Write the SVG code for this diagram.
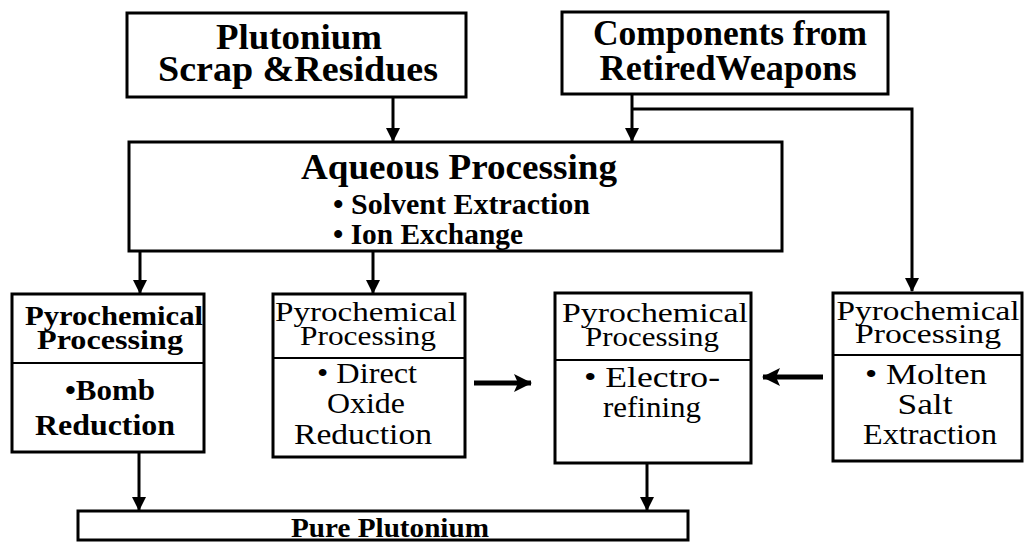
<svg xmlns="http://www.w3.org/2000/svg" width="1031" height="542" viewBox="0 0 1031 542">
  <style>
    .box { fill: #fff; stroke: #000; stroke-width: 3; }
    .div { stroke: #000; stroke-width: 2; }
    .wire { fill: none; stroke: #000; stroke-width: 3; }
    .thick { fill: none; stroke: #000; stroke-width: 5; }
    .hd { font-family: 'Liberation Serif', serif; font-weight: bold; fill: #000; text-anchor: middle; }
    .tx { font-family: 'Liberation Serif', serif; fill: #000; text-anchor: middle; }
    .bl { text-anchor: start; }
  </style>
  <defs>
    <marker id="head" markerUnits="userSpaceOnUse" markerWidth="14" markerHeight="16" viewBox="0 0 14 16" refX="13" refY="8" orient="auto">
      <path d="M0,1 L14,8 L0,15 Z" fill="#000"/>
    </marker>
    <marker id="headBig" markerUnits="userSpaceOnUse" markerWidth="18" markerHeight="20" viewBox="0 0 18 20" refX="17" refY="10" orient="auto">
      <path d="M0,1 L18,10 L0,19 L4,10 Z" fill="#000"/>
    </marker>
  </defs>
  <rect width="1031" height="542" fill="#fff"/>

  <g id="connectors">
    <path class="wire" d="M393,97 V141" marker-end="url(#head)"/>
    <path class="wire" d="M632,94 V141" marker-end="url(#head)"/>
    <path class="wire" d="M632,109 H912 V291" marker-end="url(#head)"/>
    <path class="wire" d="M140,251 V293" marker-end="url(#head)"/>
    <path class="wire" d="M373,251 V293" marker-end="url(#head)"/>
    <path class="thick" d="M474,383 H531" marker-end="url(#headBig)"/>
    <path class="thick" d="M823,377 H763" marker-end="url(#headBig)"/>
    <path class="wire" d="M139,452 V510" marker-end="url(#head)"/>
    <path class="wire" d="M647,463 V510" marker-end="url(#head)"/>
  </g>

  <g id="scrap">
    <rect class="box" x="127" y="13" width="339" height="84"/>
    <text class="hd" x="299" y="49" font-size="36" textLength="166" lengthAdjust="spacingAndGlyphs">Plutonium</text>
    <text class="hd" x="298" y="81" font-size="36" textLength="280" lengthAdjust="spacingAndGlyphs">Scrap &amp;Residues</text>
  </g>

  <g id="weapons">
    <rect class="box" x="562" y="12" width="326" height="82"/>
    <text class="hd" x="730" y="45" font-size="35" textLength="274" lengthAdjust="spacingAndGlyphs">Components from</text>
    <text class="hd" x="728" y="80" font-size="35" textLength="257" lengthAdjust="spacingAndGlyphs">RetiredWeapons</text>
  </g>

  <g id="aqueous">
    <rect class="box" x="129" y="142" width="653" height="109"/>
    <text class="hd" x="459" y="179" font-size="35" textLength="316" lengthAdjust="spacingAndGlyphs">Aqueous Processing</text>
    <text class="hd bl" x="333" y="214" font-size="29" textLength="257" lengthAdjust="spacingAndGlyphs">• Solvent Extraction</text>
    <text class="hd bl" x="333" y="244" font-size="29" textLength="190" lengthAdjust="spacingAndGlyphs">• Ion Exchange</text>
  </g>

  <g id="bomb">
    <rect class="box" x="12" y="294" width="192" height="158"/>
    <line class="div" x1="12" y1="363" x2="204" y2="363"/>
    <text class="hd" x="114" y="325" font-size="28" textLength="178" lengthAdjust="spacingAndGlyphs">Pyrochemical</text>
    <text class="hd" x="110" y="349" font-size="28" textLength="146" lengthAdjust="spacingAndGlyphs">Processing</text>
    <text class="hd" x="110" y="400" font-size="30" textLength="90" lengthAdjust="spacingAndGlyphs">•Bomb</text>
    <text class="hd" x="105" y="435" font-size="30" textLength="140" lengthAdjust="spacingAndGlyphs">Reduction</text>
  </g>

  <g id="oxide">
    <rect class="box" x="273" y="294" width="192" height="163"/>
    <line class="div" x1="273" y1="358" x2="465" y2="358"/>
    <text class="tx" x="366" y="321" font-size="28" textLength="182" lengthAdjust="spacingAndGlyphs">Pyrochemical</text>
    <text class="tx" x="368" y="345" font-size="28" textLength="136" lengthAdjust="spacingAndGlyphs">Processing</text>
    <text class="tx" x="367" y="383" font-size="30" textLength="100" lengthAdjust="spacingAndGlyphs">• Direct</text>
    <text class="tx" x="366" y="413" font-size="30" textLength="78" lengthAdjust="spacingAndGlyphs">Oxide</text>
    <text class="tx" x="363" y="444" font-size="30" textLength="138" lengthAdjust="spacingAndGlyphs">Reduction</text>
  </g>

  <g id="electro">
    <rect class="box" x="555" y="293" width="196" height="170"/>
    <line class="div" x1="555" y1="360" x2="751" y2="360"/>
    <text class="tx" x="655" y="322" font-size="28" textLength="186" lengthAdjust="spacingAndGlyphs">Pyrochemical</text>
    <text class="tx" x="652" y="346" font-size="28" textLength="134" lengthAdjust="spacingAndGlyphs">Processing</text>
    <text class="tx" x="652" y="387" font-size="30" textLength="136" lengthAdjust="spacingAndGlyphs">• Electro-</text>
    <text class="tx" x="652" y="417" font-size="30" textLength="98" lengthAdjust="spacingAndGlyphs">refining</text>
  </g>

  <g id="molten">
    <rect class="box" x="833" y="293" width="189" height="168"/>
    <line class="div" x1="833" y1="355" x2="1022" y2="355"/>
    <text class="tx" x="928" y="320" font-size="28" textLength="183" lengthAdjust="spacingAndGlyphs">Pyrochemical</text>
    <text class="tx" x="928" y="343" font-size="28" textLength="146" lengthAdjust="spacingAndGlyphs">Processing</text>
    <text class="tx" x="926" y="384" font-size="30" textLength="122" lengthAdjust="spacingAndGlyphs">• Molten</text>
    <text class="tx" x="925" y="414" font-size="30" textLength="55" lengthAdjust="spacingAndGlyphs">Salt</text>
    <text class="tx" x="930" y="444" font-size="30" textLength="134" lengthAdjust="spacingAndGlyphs">Extraction</text>
  </g>

  <g id="pure">
    <rect class="box" x="78" y="511" width="610" height="29"/>
    <text class="hd" x="390" y="537" font-size="27" textLength="198" lengthAdjust="spacingAndGlyphs">Pure Plutonium</text>
  </g>
</svg>
